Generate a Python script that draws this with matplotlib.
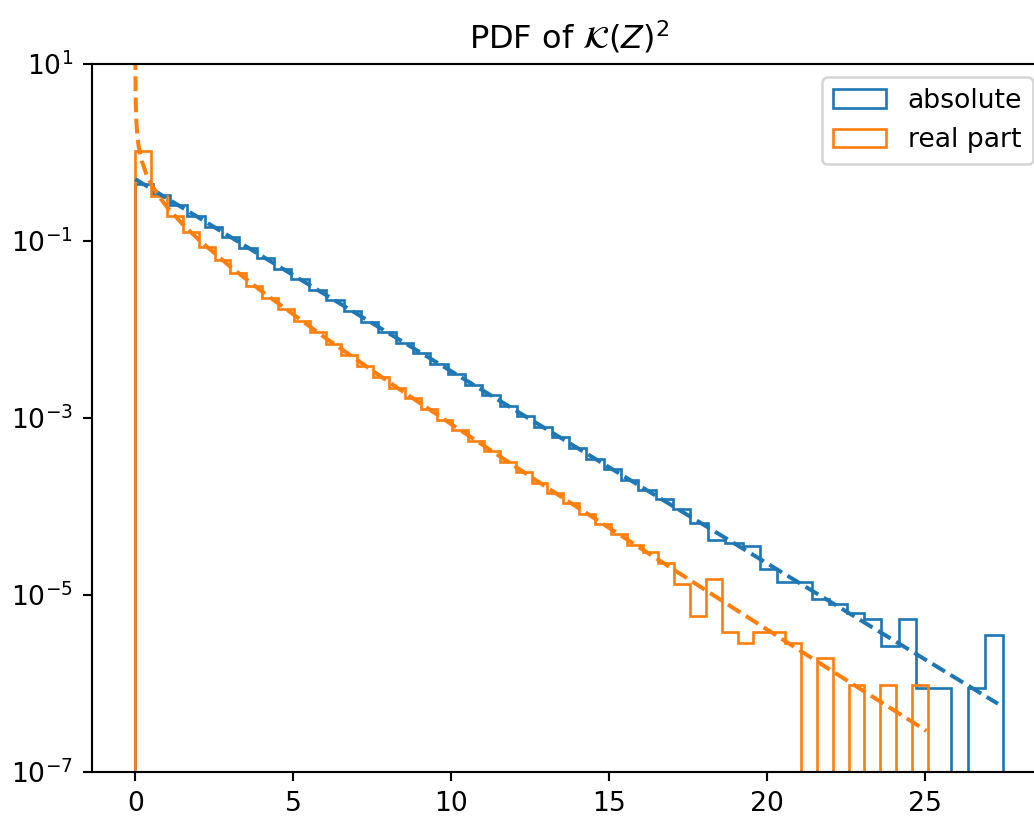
import numpy as np
import matplotlib
matplotlib.use("Agg")
import matplotlib.pyplot as plt
from matplotlib.ticker import FixedLocator, NullLocator

# 50-bin histograms (density)
n_bins = 50
abs_range = (0.0, 27.45)
real_range = (0.0, 25.08)

abs_density = [
    0.437, 0.331, 0.252, 0.191, 0.1455, 0.1105, 0.0840, 0.0639, 0.0485, 0.0369,
    0.0280, 0.0213, 0.0162, 0.0123, 0.00935, 0.00711, 0.00540, 0.00411, 0.00312, 0.00237,
    0.00180, 0.00137, 0.00104, 7.92e-4, 6.02e-4, 4.57e-4, 3.48e-4, 2.64e-4, 2.01e-4, 1.53e-4,
    1.20e-4, 9.3e-5, 6.45e-5, 4.18e-5, 3.84e-5, 3.57e-5, 1.96e-5, 1.42e-5, 1.42e-5, 8.9e-6,
    8.0e-6, 6.2e-6, 5.3e-6, 2.67e-6, 5.3e-6, 8.9e-7, 8.9e-7, 0.0, 8.9e-7, 3.56e-6,
]
real_density = [
    1.04, 0.324, 0.192, 0.126, 0.0865, 0.0605, 0.0433, 0.0314, 0.0229, 0.0169,
    0.0125, 0.00929, 0.00693, 0.00519, 0.00390, 0.00293, 0.00221, 0.00167, 0.00127, 9.59e-4,
    7.28e-4, 5.53e-4, 4.21e-4, 3.20e-4, 2.44e-4, 1.86e-4, 1.42e-4, 1.09e-4, 8.3e-5, 6.35e-5,
    4.86e-5, 3.72e-5, 3.1e-5, 2.3e-5, 1.34e-5, 5.76e-6, 1.50e-5, 3.84e-6, 2.88e-6, 3.84e-6,
    3.84e-6, 2.88e-6, 0.0, 1.92e-6, 0.0, 9.6e-7, 0.0, 9.6e-7, 0.0, 9.6e-7,
]

# dashed reference pdfs
abs_pdf_x = [0.0, 10.0, 20.0, 27.3]
abs_pdf_y = [0.5, 3.37e-3, 2.27e-5, 5.9e-7]
real_pdf_x = [0.001, 0.003, 0.01, 0.03, 0.06, 0.1, 0.2, 0.35, 0.5, 0.75, 1.0, 1.5, 2.0,
              3.0, 4.0, 6.0, 8.0, 10.0, 13.0, 16.0, 19.0, 22.0, 25.04]
real_pdf_y = [12.6, 7.27, 3.97, 2.27, 1.58, 1.20, 0.807, 0.566, 0.439, 0.3166, 0.242,
              0.1539, 0.1038, 0.0514, 0.0270, 0.00811, 0.00258, 8.5e-4, 1.663e-4,
              3.35e-5, 6.85e-6, 1.42e-6, 2.91e-7]

y_ticks = [1e-7, 1e-5, 1e-3, 1e-1, 1e1]

fig = plt.figure(figsize=(5.3855, 4.2657), dpi=192)
ax = fig.add_axes([92 / 1034, 47 / 819, 954 / 1034, 708 / 819])

abs_edges = np.linspace(abs_range[0], abs_range[1], n_bins + 1)
real_edges = np.linspace(real_range[0], real_range[1], n_bins + 1)
abs_mid = 0.5 * (abs_edges[:-1] + abs_edges[1:])
real_mid = 0.5 * (real_edges[:-1] + real_edges[1:])

ax.hist(abs_mid, bins=abs_edges, weights=abs_density, histtype="step",
        log=True, color="C0", label="absolute")
ax.hist(real_mid, bins=real_edges, weights=real_density, histtype="step",
        log=True, color="C1", label="real part")
ax.plot(abs_pdf_x, abs_pdf_y, "--", color="C0")
ax.plot(real_pdf_x, real_pdf_y, "--", color="C1")

ax.set_ylim(1e-7, 1e1)
ax.yaxis.set_major_locator(FixedLocator(y_ticks))
ax.yaxis.set_minor_locator(NullLocator())
ax.set_xlim(-1.3725, 28.82)
ax.set_title(r"PDF of $\mathcal{K}(Z)^2$")
ax.legend(loc="upper right")

fig.savefig("out.png", dpi=192)
